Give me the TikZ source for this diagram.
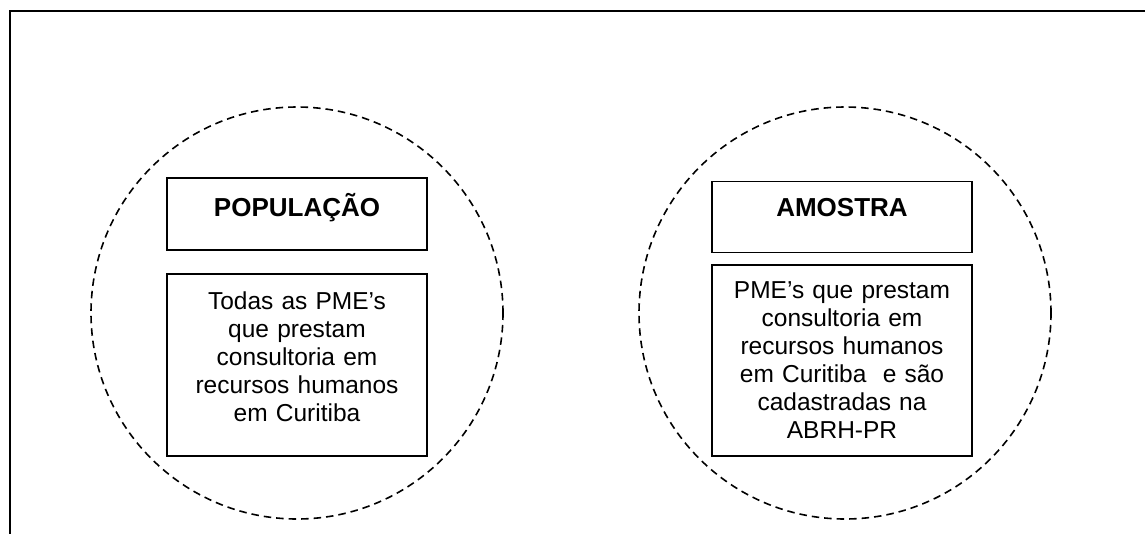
\documentclass[tikz,border=0pt]{standalone}
\usepackage{fontspec}
\setmainfont{Liberation Sans}

\begin{document}
\begin{tikzpicture}[x=1pt,y=-1pt]
\tikzset{
  titlebox/.style={draw, line width=1.5pt, inner sep=0pt, minimum width=260pt,
    font=\fontsize{26}{30}\selectfont\bfseries},
  textbox/.style={draw, line width=1.5pt, inner sep=0pt, minimum width=260pt,
    text width=240pt, align=center, font=\fontsize{24.5}{28}\selectfont},
  groupcircle/.style={circle, draw, dashed, dash pattern=on 7.5pt off 5pt,
    line width=1.6pt, minimum size=412pt, inner sep=0pt}
}
\useasboundingbox (0,0) rectangle (1145,533);
\definecolor{myColor}{RGB}{0,0,0}
% frame round the figure
\draw[myColor, line width=2pt] (10,540) -- (10,11) -- (1150,11);
% population
\node[groupcircle] (popcircle) at (297,313) {};
\node[titlebox, text height=38pt, text depth=34pt] (poptitle) at (297,214) {POPULAÇÃO};
\node[textbox, minimum height=182pt, text height=18pt, text depth=130pt] (poptext) at (297,365)
  {Todas as PME’s\\que prestam\\consultoria em\\recursos humanos\\em Curitiba};
% sample
\node[groupcircle] (samcircle) at (845,313) {};
\node[titlebox, text height=35pt, text depth=36pt] (samtitle) at (842,217) {AMOSTRA};
\node[textbox, minimum height=191pt] (samtext) at (842,360.5)
  {PME’s que prestam\\consultoria em\\recursos humanos\\em Curitiba\ \ e são\\cadastradas na\\ABRH-PR};
\end{tikzpicture}
\end{document}
